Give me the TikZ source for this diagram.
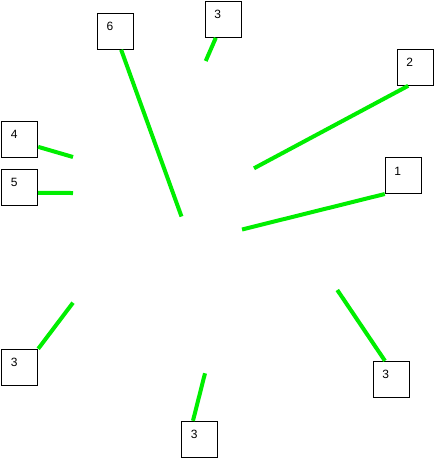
\documentclass[tikz,border=0pt]{standalone}
\usepackage{fontspec}
\setmainfont{Liberation Sans}
\usetikzlibrary{positioning}

\begin{document}
\begin{tikzpicture}[x=1pt, y=-1pt, every loop/.style={},
		box/.style={draw, black, line width=1pt, minimum size=36pt, inner sep=0pt},
		num/.style={font=\fontsize{12}{14}\selectfont, xshift=-5.5pt, yshift=4.5pt},
		link/.style={draw, line width=4pt, color={rgb,255:red,0;green,238;blue,0}}]
			\useasboundingbox (0,0) rectangle (446,458);
			
			\node[box, label={[num]center:6}] (A) at (115.5,31.3) {};
			\node[box, label={[num]center:3}] (B) at (223.3,19.3) {};
			\node[box, label={[num]center:2}] (C) at (415.3,67.3) {};
			\node[box, label={[num]center:1}] (D) at (403.3,175.5) {};
			\node[box, label={[num]center:4}] (E) at (19.7,139) {};
			\node[box, label={[num]center:5}] (F) at (19.7,187.3) {};
			\node[box, label={[num]center:3}] (G) at (19.7,367.3) {};
			\node[box, label={[num]center:3}] (H) at (199.7,439.3) {};
			\node[box, label={[num]center:3}] (I) at (391.3,379.3) {};
			
			\coordinate (a) at (181.5,216.5);
			\coordinate (b) at (205.7,61);
			\coordinate (c) at (254,168.3);
			\coordinate (d) at (242,229.5);
			\coordinate (e) at (73,157);
			\coordinate (f) at (73,193);
			\coordinate (g) at (73,302.7);
			\coordinate (h) at (205,373.3);
			\coordinate (i) at (337.3,290);
			
			\path[link] (A.-73) -- (a);
			\path[link] (B.-112) -- (b);
			\path[link] (C.-111) -- (c);
			\path[link] (D.south west) -- (d);
			\path[link] (E.-23) -- (e);
			\path[link] (F.-17.6) -- (f);
			\path[link] (G.north east) -- (g);
			\path[link] (H.110.4) -- (h);
			\path[link] (I.109.3) -- (i);
			\end{tikzpicture}
\end{document}
